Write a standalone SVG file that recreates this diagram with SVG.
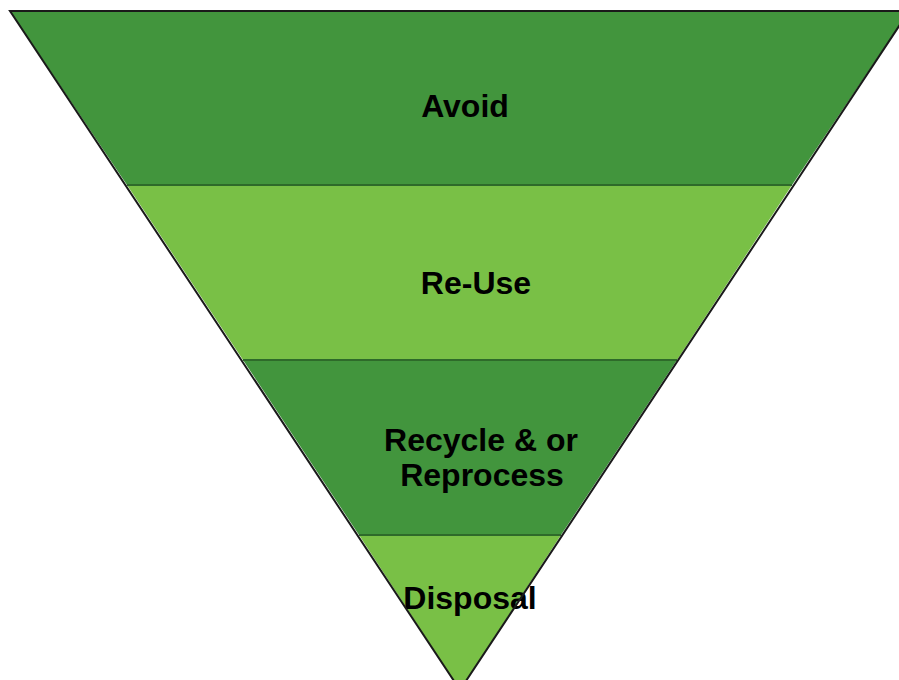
<svg xmlns="http://www.w3.org/2000/svg" width="899" height="680" viewBox="0 0 899 680">
<style>
.dark{fill:#42953d;stroke:none}
.light{fill:#79c046;stroke:none}
.sep{stroke:#2e6a2a;stroke-width:2;fill:none}
.edge{stroke:#1a1a1a;stroke-width:2;fill:none}
.lbl{font-family:"Liberation Sans",Arial,sans-serif;font-weight:bold;font-size:32px;fill:#000;text-anchor:middle}
</style>
<rect width="899" height="680" fill="#ffffff"/>
<g id="avoid">
<polygon class="dark" points="10,11 909,11 792,185 127,185"/>
<text class="lbl" x="465" y="117">Avoid</text>
</g>
<g id="reuse">
<polygon class="light" points="127,185 792,185 677,360 243,360"/>
<text class="lbl" x="476" y="294">Re-Use</text>
</g>
<g id="recycle">
<polygon class="dark" points="243,360 677,360 561,535 359,535"/>
<text class="lbl" x="481" y="451">Recycle &amp; or</text>
<text class="lbl" x="482" y="486">Reprocess</text>
</g>
<g id="disposal">
<polygon class="light" points="359,535 561,535 460,690"/>
<text class="lbl" x="470" y="609">Disposal</text>
</g>
<g id="connectors">
<line class="sep" x1="127" y1="185" x2="792" y2="185"/>
<line class="sep" x1="243" y1="360" x2="677" y2="360"/>
<line class="sep" x1="359" y1="535" x2="561" y2="535"/>
<polyline class="edge" points="909,11 10,11 460,690 909,11"/>
</g>
</svg>
